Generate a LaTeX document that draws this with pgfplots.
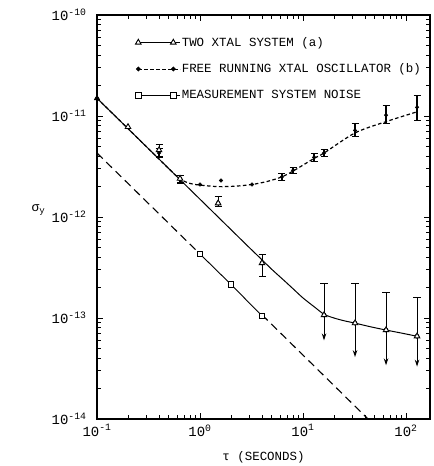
\documentclass[border=0pt]{standalone}
\usepackage{fontspec}
\setmainfont{Liberation Mono}
\usepackage{pgfplots}
\usepackage{pgfplotstable}
\pgfplotsset{compat=1.18}
\usetikzlibrary{arrows.meta}

% curve (a): two xtal system
\pgfplotstableread{
x y
0.1 1.5e-11
0.5 3.0e-12
1 1.5e-12
2 7.5e-13
3 5.0e-13
4 3.77e-13
5 3.02e-13
6.5 2.37e-13
8 1.95e-13
10 1.58e-13
13 1.28e-13
16 1.09e-13
20 1.0e-13
25 9.4e-14
32 8.9e-14
45 8.2e-14
64 7.6e-14
90 7.1e-14
128 6.6e-14
}\curveA
% curve (b): free running xtal oscillator
\pgfplotstableread{
x y
0.1 1.5e-11
0.3 5.0e-12
0.5 3.0e-12
0.64 2.38e-12
0.8 2.15e-12
1.0 2.07e-12
1.5 2.0e-12
2.2 2.02e-12
3.2 2.1e-12
4.5 2.25e-12
6.25 2.5e-12
8 2.85e-12
12.8 3.8e-12
16 4.3e-12
32 6.8e-12
64 8.8e-12
128 1.1e-11
}\curveB
% (a) points with error bars
\pgfplotstableread{
x y ep em
0.4 4.6e-12 0.6e-12 0.6e-12
0.64 2.4e-12 0.2e-12 0.2e-12
1.5 1.37e-12 0.21e-12 0.11e-12
4 3.5e-13 0.8e-13 0.95e-13
}\ptsAerr
\pgfplotstableread{
x y
0.1 1.5e-11
}\ptsA
\pgfplotstableread{
x y
0.2 7.8e-12
}\ptsAopen
% (a) upper limits: cap above, arrow below
\pgfplotstableread{
x y ep em
16 1.07e-13 1.13e-13 4.7e-14
32 8.9e-14 1.31e-13 4.8e-14
64 7.6e-14 1.01e-13 4.2e-14
128 6.6e-14 0.92e-13 3.3e-14
}\ptsAlim
% (b) points with error bars
\pgfplotstableread{
x y ep em
0.4 4.3e-12 0.5e-12 0.45e-12
0.64 2.35e-12 0.2e-12 0.2e-12
6.25 2.5e-12 0.2e-12 0.2e-12
8 2.9e-12 0.2e-12 0.2e-12
12.8 3.9e-12 0.35e-12 0.35e-12
16 4.3e-12 0.35e-12 0.35e-12
32 7.2e-12 1.3e-12 1.0e-12
64 1.02e-11 0.24e-11 0.17e-11
128 1.22e-11 0.36e-11 0.31e-11
}\ptsBerr
\pgfplotstableread{
x y
0.1 1.5e-11
1.0 2.1e-12
1.6 2.3e-12
3.2 2.1e-12
}\ptsB
% measurement system noise
\pgfplotstableread{
x y
1 4.3e-13
2 2.15e-13
4 1.05e-13
}\ptsC
\pgfplotstableread{
x y
0.1 4.3e-12
1 4.3e-13
}\dashC
\pgfplotstableread{
x y
4 1.075e-13
42 1.02e-14
}\dashCb

\begin{document}
\begin{tikzpicture}
\useasboundingbox (0,0) rectangle (434bp,466bp);
\begin{axis}[
  at={(97bp,47bp)}, anchor=south west,
  width=333bp, height=404bp, scale only axis,
  xmode=log, ymode=log,
  xmin=0.1, xmax=171, ymin=1e-14, ymax=1e-10,
  axis line style={line width=1.3bp},
  every tick/.style={black, line width=1bp},
  major tick length=6bp, minor tick length=4bp,
  xtick={0.1,1,10,100},
  xticklabels={10\textsuperscript{-1},10\textsuperscript{0},10\textsuperscript{1},10\textsuperscript{2}},
  minor xtick={0.2,0.3,0.4,0.5,0.6,0.7,0.8,0.9,2,3,4,5,6,7,8,9,20,30,40,50,60,70,80,90},
  ytick={1e-14,1e-13,1e-12,1e-11,1e-10},
  yticklabels={10\textsuperscript{-14},10\textsuperscript{-13},10\textsuperscript{-12},10\textsuperscript{-11},10\textsuperscript{-10}},
  minor ytick={2e-14,3e-14,4e-14,5e-14,6e-14,7e-14,8e-14,9e-14,
               2e-13,3e-13,4e-13,5e-13,6e-13,7e-13,8e-13,9e-13,
               2e-12,3e-12,4e-12,5e-12,6e-12,7e-12,8e-12,9e-12,
               2e-11,3e-11,4e-11,5e-11,6e-11,7e-11,8e-11,9e-11},
  ticklabel style={font=\fontsize{14}{16}\selectfont},
  yticklabel style={xshift=-7bp},
  xticklabel style={yshift=-2bp},
  xlabel={τ (SECONDS)},
  xlabel style={at={(rel axis cs:0.5,0)}, anchor=center, yshift=-38bp, font=\fontsize{12.5}{14}\selectfont},
  ylabel={σ\textsubscript{y}},
  ylabel style={at={(rel axis cs:0,0.517)}, anchor=west, rotate=-90, xshift=-69bp, font=\fontsize{13}{14}\selectfont},
  legend style={draw=none, fill=none, at={(rel axis cs:0.115,0.948)}, anchor=north west,
    font=\fontsize{12.5}{14}\selectfont, row sep=14bp, inner sep=0pt,
    nodes={inner sep=1bp}},
  legend cell align=left,
  legend image code/.code={
    \path (0bp,0bp) -- (42bp,0bp);
    \draw[#1, mark=none] (0bp,0bp) -- (35bp,0bp);
    \draw[#1, only marks] plot coordinates {(0bp,0bp) (35bp,0bp)};
  },
]
\addlegendimage{black, line width=0.9bp, mark=triangle*, mark size=3.2bp, mark options={solid, fill=white}}
\addlegendentry{TWO XTAL SYSTEM (a)}
\addlegendimage{black, line width=1bp, dash pattern=on 3.5bp off 2.5bp, mark=*, mark size=1.8bp, mark options={solid}}
\addlegendentry{FREE RUNNING XTAL OSCILLATOR (b)}
\addlegendimage{black, line width=0.9bp, mark=square*, mark size=2.8bp, mark options={solid, fill=white}}
\addlegendentry{MEASUREMENT SYSTEM NOISE}

% dashed extensions of measurement noise
\addplot[black, line width=1.1bp, dash pattern=on 8bp off 5bp, forget plot] table[x=x,y=y] {\dashC};
\addplot[black, line width=1.1bp, dash pattern=on 8bp off 5bp, forget plot] table[x=x,y=y] {\dashCb};
% measurement noise
\addplot[black, line width=0.9bp, mark=square*, mark size=2.8bp, mark options={fill=white}, forget plot] table[x=x,y=y] {\ptsC};

% curves
\addplot[black, line width=1bp, smooth, forget plot] table[x=x,y=y] {\curveA};
\addplot[black, line width=1.2bp, dash pattern=on 3.5bp off 2.5bp, smooth, forget plot] table[x=x,y=y] {\curveB};

% (b) points
\addplot[black, only marks, mark=*, mark size=1.8bp, forget plot,
  error bars/.cd, y dir=both, y explicit, error mark options={black, line width=1bp, mark size=3.5bp, rotate=90},
  error bar style={line width=1.3bp}]
  table[x=x,y=y,y error plus=ep,y error minus=em] {\ptsBerr};
\addplot[black, only marks, mark=*, mark size=1.8bp, forget plot] table[x=x,y=y] {\ptsB};

% (a) points
\addplot[black, only marks, mark=none, forget plot,
  error bars/.cd, y dir=both, y explicit, error mark options={black, line width=1bp, mark size=3.5bp, rotate=90},
  error bar style={line width=1bp}]
  table[x=x,y=y,y error plus=ep,y error minus=em] {\ptsAerr};
\addplot[black, only marks, mark=triangle*, mark size=3.2bp, mark options={fill=white, line width=0.9bp}, forget plot] table[x=x,y=y] {\ptsAerr};
\addplot[black, only marks, mark=triangle*, mark size=3.2bp, forget plot] table[x=x,y=y] {\ptsA};
\addplot[black, only marks, mark=triangle*, mark size=3.2bp, mark options={fill=white, line width=0.9bp}, forget plot] table[x=x,y=y] {\ptsAopen};
% upper limit caps
\addplot[black, only marks, mark=none, forget plot,
  error bars/.cd, y dir=plus, y explicit, error mark options={black, line width=1bp, mark size=3.8bp, rotate=90},
  error bar style={line width=1bp}]
  table[x=x,y=y,y error plus=ep,y error minus=em] {\ptsAlim};
\addplot[black, only marks, mark=none, forget plot,
  error bars/.cd, y dir=minus, y explicit, error mark=none,
  error bar style={line width=1bp, -{Stealth[length=7bp,width=4.5bp]}}]
  table[x=x,y=y,y error plus=ep,y error minus=em] {\ptsAlim};
\addplot[black, only marks, mark=triangle*, mark size=3.2bp, mark options={fill=white, line width=0.9bp}, forget plot] table[x=x,y=y] {\ptsAlim};
\end{axis}
\end{tikzpicture}
\end{document}
